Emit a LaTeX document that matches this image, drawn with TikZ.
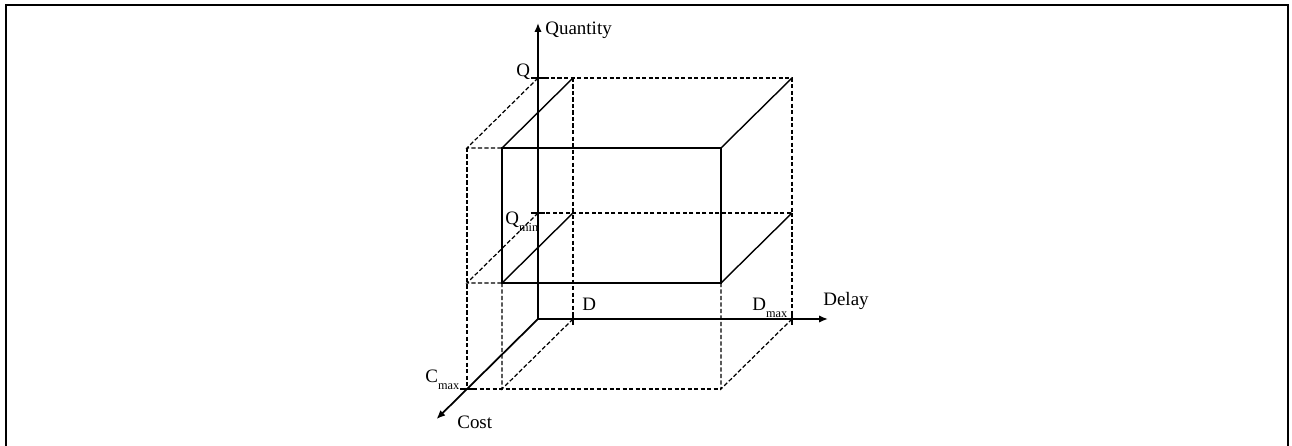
\documentclass[tikz,border=0pt]{standalone}
\usepackage{fontspec}
\setmainfont{Liberation Serif}
\usetikzlibrary{arrows.meta}
\newcommand{\lowsub}[1]{\raisebox{-3.5pt}{\scriptsize #1}}

\begin{document}
\begin{tikzpicture}[x=0.02cm,y=0.02cm,z={(-1.42cm,-1.4cm)},
  axis/.style={line width=1pt,-{Latex[length=5pt,width=4.2pt]}},
  edge/.style={line width=0.8pt},
  hidden/.style={line width=0.7pt,dash pattern=on 2.4pt off 1.3pt},
  tickmark/.style={line width=1.3pt},
  lbl/.style={inner sep=0pt,anchor=base west},
  font=\fontsize{10.8}{12}\selectfont]
\useasboundingbox (-538,-127) rectangle (754,319);
\draw[line width=1.1pt] (-532,-135) -- (-532,314) -- (750,314) -- (750,-135);
% corners of the box
\coordinate (O) at (0,0,0);
\coordinate (Qa) at (0,241,0);
\coordinate (Qn) at (0,106,0);
\coordinate (b1) at (35,106,0);
\coordinate (b2) at (254,106,0);
\coordinate (b3) at (254,241,0);
\coordinate (b4) at (35,241,0);
\coordinate (f1) at (35,106,1);
\coordinate (f2) at (254,106,1);
\coordinate (f3) at (254,241,1);
\coordinate (f4) at (35,241,1);
\coordinate (o1) at (0,106,1);
\coordinate (o4) at (0,241,1);
\coordinate (Cm) at (0,0,1);
\coordinate (D) at (35,0,0);
\coordinate (Dm) at (254,0,0);
\coordinate (p1) at (35,0,1);
\coordinate (p2) at (254,0,1);
\coordinate (qend) at (0,296,0);
\coordinate (dend) at (290,0,0);
\coordinate (cend) at (0,0,1.43);
% hidden edges
\draw[hidden] (Qa) -- (b4) -- (b3) -- (b2) -- (b1) -- (Qn);
\draw[hidden] (b4) -- (b1) -- (D);
\draw[hidden] (b2) -- (Dm);
\draw[hidden] (Qa) -- (o4) -- (f4);
\draw[hidden] (Qn) -- (o1) -- (f1);
\draw[hidden] (o4) -- (o1) -- (Cm) -- (p1) -- (p2);
\draw[hidden] (f1) -- (p1) -- (D);
\draw[hidden] (f2) -- (p2) -- (Dm);
% visible edges
\draw[edge] (f1) -- (f2) -- (f3) -- (f4) -- cycle;
\draw[edge] (f4) -- (b4);
\draw[edge] (f3) -- (b3);
\draw[edge] (f1) -- (b1);
\draw[edge] (f2) -- (b2);
% axes
\draw[axis] (O) -- (qend);
\draw[axis] (O) -- (dend);
\draw[axis] (O) -- (cend);
\draw[tickmark] (Qa) ++(-7,0) -- ++(13,0);
\draw[tickmark] (Qn) ++(-7,0) -- ++(14,0);
\draw[tickmark] (D) ++(0,-6) -- ++(0,13);
\draw[tickmark] (Dm) ++(0,-6) -- ++(0,13);
\draw[tickmark] (Cm) ++(-7,0) -- ++(14,0);
% labels
\node[lbl] (lq) at (7,284) {Quantity};
\node[lbl] (lqa) at (-22,242) {Q};
\node[lbl] (lqn) at (-33,94) {Q\lowsub{min}};
\node[lbl] (ld) at (44,8) {D};
\node[lbl] (ldm) at (214,8) {D\lowsub{max}};
\node[lbl] (ldel) at (285,13) {Delay};
\node[lbl] (lcm) at (-113,-64) {C\lowsub{max}};
\node[lbl] (lc) at (-81,-110) {Cost};
\end{tikzpicture}
\end{document}
